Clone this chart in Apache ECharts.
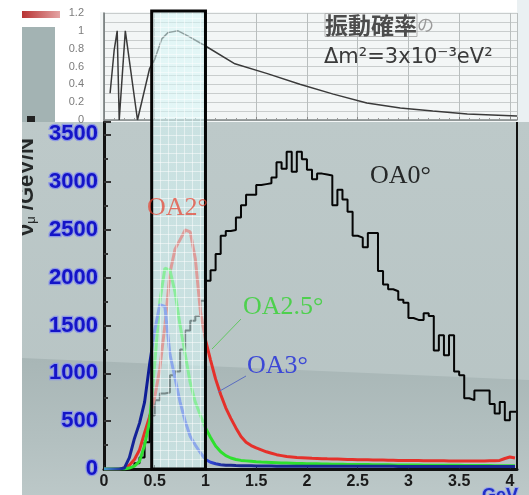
<!DOCTYPE html>
<html>
<head>
<meta charset="utf-8">
<script src="https://cdn.jsdelivr.net/npm/echarts@6/dist/echarts.min.js"></script>
<style>
  html, body { margin: 0; padding: 0; background: #fff; }
  #main { width: 529px; height: 495px; }
</style>
</head>
<body>
<div id="main"></div>
<script>
// neutrino energy (GeV), bin left edges
var energy = [
  0, 0.05, 0.1, 0.15, 0.2, 0.25, 0.3, 0.35, 0.4, 0.45,
  0.5, 0.55, 0.6, 0.65, 0.7, 0.75, 0.8, 0.85, 0.9, 0.95,
  1, 1.05, 1.1, 1.15, 1.2, 1.25, 1.3, 1.35, 1.4, 1.45,
  1.5, 1.55, 1.6, 1.65, 1.7, 1.75, 1.8, 1.85, 1.9, 1.95,
  2, 2.05, 2.1, 2.15, 2.2, 2.25, 2.3, 2.35, 2.4, 2.45,
  2.5, 2.55, 2.6, 2.65, 2.7, 2.75, 2.8, 2.85, 2.9, 2.95,
  3, 3.05, 3.1, 3.15, 3.2, 3.25, 3.3, 3.35, 3.4, 3.45,
  3.5, 3.55, 3.6, 3.65, 3.7, 3.75, 3.8, 3.85, 3.9, 3.95,
  4, 4.05
];
// OA0 (histogram)
var oa0Flux = [
  0, 0, 0, 0, 10, 30, 60, 120, 280, 560,
  720, 790, 800, 980, 1020, 1250, 1450, 1550, 1600, 1760,
  1970, 2080, 2250, 2440, 2490, 2500, 2630, 2760, 2870, 2870,
  2970, 2980, 2990, 3050, 3210, 3140, 3320, 3110, 3320, 3240,
  3130, 3030, 3090, 3080, 3070, 2760, 2920, 2820, 2690, 2440,
  2420, 2320, 2470, 2470, 2070, 1930, 1880, 1860, 1770, 1740,
  1580, 1560, 1560, 1630, 1600, 1240, 1400, 1190, 1400, 1020,
  980, 740, 720, 820, 820, 820, 680, 580, 700, 510,
  600, 600
];
// OA2
var oa2Flux = [
  0, 0, 0, 0, 10, 40, 100, 200, 380, 550,
  750, 1050, 1500, 2050, 2300, 2400, 2500, 2480, 2200, 1650,
  1350, 1140, 940, 780, 640, 530, 430, 340, 280, 245,
  220, 200, 180, 165, 150, 140, 130, 125, 120, 118,
  115, 112, 110, 108, 106, 105, 104, 102, 100, 100,
  98, 97, 96, 95, 94, 93, 92, 91, 90, 90,
  89, 88, 88, 87, 86, 86, 85, 85, 84, 84,
  84, 84, 84, 84, 84, 84, 85, 86, 90, 110,
  125, 115
];
// OA2.5
var oa25Flux = [
  0, 0, 0, 0, 0, 10, 30, 80, 250, 500,
  1100, 1750, 2100, 2080, 1850, 1500, 1200, 900, 700, 560,
  430, 330, 240, 180, 140, 115, 100, 90, 85, 80,
  75, 72, 70, 68, 66, 64, 62, 60, 58, 57,
  56, 55, 54, 53, 52, 51, 50, 49, 48, 48,
  47, 46, 46, 45, 45, 44, 44, 43, 43, 42,
  42, 41, 41, 40, 40, 40, 39, 39, 38, 38,
  38, 37, 37, 37, 36, 36, 36, 35, 35, 35,
  35, 35
];
// OA3
var oa3Flux = [
  0, 0, 0, 0, 10, 120, 320, 480, 700, 1100,
  1450, 1720, 1700, 1200, 950, 700, 500, 340, 250, 170,
  100, 70, 55, 45, 40, 38, 36, 35, 34, 33,
  32, 32, 31, 31, 30, 30, 30, 30, 30, 30,
  30, 30, 30, 30, 29, 29, 29, 29, 29, 29,
  28, 28, 28, 28, 28, 28, 28, 28, 27, 27,
  27, 27, 27, 27, 27, 26, 26, 26, 26, 26,
  26, 26, 26, 25, 25, 25, 25, 25, 25, 25,
  25, 25
];
// oscillation probability (top panel)
var probE = [0.06, 0.10, 0.13, 0.15, 0.21, 0.33, 0.45, 0.50, 0.57, 0.63, 0.73, 0.83, 1.00, 1.29, 1.61, 1.93, 2.26, 2.59, 2.92, 3.24, 3.58, 4.07];
var probValue = [0.30, 0.78, 1.00, 0.00, 1.00, 0.00, 0.58, 0.68, 0.91, 0.98, 1.00, 0.94, 0.83, 0.63, 0.52, 0.40, 0.29, 0.19, 0.135, 0.10, 0.067, 0.045];

var xTicks = [0, 0.5, 1, 1.5, 2, 2.5, 3, 3.5, 4];
var yTicks = [0, 500, 1000, 1500, 2000, 2500, 3000, 3500];
var probTicks = [0, 0.2, 0.4, 0.6, 0.8, 1, 1.2];
var boxRange = [0.47, 1.0];

var X_MAX = 4.07;
var Y_MAX = 3630;

function pairs(xs, ys) {
  return xs.map(function (x, i) { return [x, ys[i]]; });
}
var oa0Data = pairs(energy, oa0Flux);
oa0Data.push([X_MAX, oa0Flux[oa0Flux.length - 1]]);

function inList(list, v) {
  for (var i = 0; i < list.length; i++) {
    if (Math.abs(list[i] - v) < 1e-6) return true;
  }
  return false;
}

// light cyan grid pattern for the highlighted box
var pat = document.createElement('canvas');
pat.width = 8; pat.height = 9;
var pctx = pat.getContext('2d');
pctx.fillStyle = 'rgba(214,246,246,0.55)';
pctx.fillRect(0, 0, 8, 9);
pctx.fillStyle = 'rgba(255,255,255,0.5)';
pctx.fillRect(0, 0, 1, 9);
pctx.fillRect(0, 0, 8, 1);

var chart = echarts.init(document.getElementById('main'));

var option = {
  animation: false,
  backgroundColor: '#ffffff',
  grid: [
    { left: 104, top: 13, width: 413, height: 107 },
    { left: 104, top: 122, width: 413, height: 347 }
  ],
  xAxis: [
    {
      gridIndex: 0, type: 'value', min: 0, max: X_MAX, interval: 0.5,
      axisLine: { lineStyle: { color: '#7f8585', width: 1.5 } },
      axisTick: { show: true, inside: true, length: 3, lineStyle: { color: '#888' } },
      minorTick: { show: true, splitNumber: 5, length: 2, lineStyle: { color: '#999' } },
      axisLabel: { show: false },
      splitLine: { show: true, lineStyle: { color: '#b9bebe', width: 1 } }
    },
    {
      gridIndex: 1, type: 'value', min: 0, max: X_MAX, interval: 0.5,
      axisLine: { lineStyle: { color: '#111', width: 3 } },
      axisTick: { show: true, inside: true, length: 4, lineStyle: { color: '#222' } },
      axisLabel: {
        margin: 5, color: '#1a1a1a', fontSize: 16, fontWeight: 'bold',
        fontFamily: 'Liberation Sans',
        formatter: function (v) { return inList(xTicks, v) ? String(v) : ''; }
      },
      splitLine: { show: false }
    }
  ],
  yAxis: [
    {
      gridIndex: 0, type: 'value', min: 0, max: 1.2, interval: 0.1,
      axisLine: { show: true, lineStyle: { color: '#6d7373', width: 1.5 } },
      axisTick: { show: false },
      axisLabel: {
        margin: 20, color: '#7c7c7c', fontSize: 11, fontFamily: 'Liberation Sans',
        formatter: function (v) { return inList(probTicks, v) ? String(v) : ''; }
      },
      splitLine: { show: true, lineStyle: { color: '#c9cdcd', width: 1 } }
    },
    {
      gridIndex: 1, type: 'value', min: 0, max: Y_MAX, interval: 500,
      axisLine: { show: true, lineStyle: { color: '#111', width: 3 } },
      axisTick: { show: true, inside: true, length: 7, lineStyle: { color: '#333', width: 2 } },
      minorTick: { show: true, splitNumber: 2, length: 4, lineStyle: { color: '#333', width: 2 } },
      axisLabel: {
        margin: 6, color: '#1414c8', fontSize: 22, fontWeight: 'bold',
        fontFamily: 'Liberation Sans',
        textBorderColor: '#8d98e4', textBorderWidth: 2.5,
        formatter: function (v) { return inList(yTicks, v) ? String(v) : ''; }
      },
      splitLine: { show: false }
    }
  ],
  series: [
    {
      name: 'prob', type: 'line', xAxisIndex: 0, yAxisIndex: 0,
      data: pairs(probE, probValue), showSymbol: false,
      lineStyle: { color: '#3a3a3a', width: 1.5 }
    },
    {
      name: 'OA0', type: 'line', xAxisIndex: 1, yAxisIndex: 1, step: 'end',
      data: oa0Data, showSymbol: false, z: 3,
      lineStyle: { color: '#050505', width: 2 }
    },
    {
      name: 'OA2', type: 'line', xAxisIndex: 1, yAxisIndex: 1,
      data: pairs(energy, oa2Flux), showSymbol: false, z: 4,
      lineStyle: { color: '#e5302a', width: 3 }
    },
    {
      name: 'OA2.5', type: 'line', xAxisIndex: 1, yAxisIndex: 1,
      data: pairs(energy, oa25Flux), showSymbol: false, z: 5,
      lineStyle: { color: '#2ee02e', width: 3 }
    },
    {
      name: 'OA3', type: 'line', xAxisIndex: 1, yAxisIndex: 1,
      data: pairs(energy, oa3Flux), showSymbol: false, z: 6,
      lineStyle: {
        width: 3,
        color: {
          type: 'linear', x: 0, y: 0, x2: 1, y2: 0,
          colorStops: [
            { offset: 0, color: '#48a8d0' },
            { offset: 0.05, color: '#1a2a9a' },
            { offset: 0.115, color: '#0c1a96' },
            { offset: 0.125, color: '#3448e0' },
            { offset: 0.26, color: '#3448d8' },
            { offset: 0.3, color: '#1a2890' },
            { offset: 1, color: '#1a2890' }
          ]
        }
      }
    }
  ]
};
chart.setOption(option);

// positions from the chart's own scales
var pLeft = chart.convertToPixel({ gridIndex: 1 }, [boxRange[0], 0]);
var pRight = chart.convertToPixel({ gridIndex: 1 }, [boxRange[1], 0]);
var pTop = chart.convertToPixel({ gridIndex: 0 }, [0, 1.2]);

chart.setOption({
  graphic: [
    // slide background
    { type: 'rect', z: -100, shape: { x: 22, y: 122, width: 507, height: 373 },
      style: { fill: { type: 'linear', x: 0, y: 0, x2: 0, y2: 1,
        colorStops: [{ offset: 0, color: '#bdc9c9' }, { offset: 1, color: '#b6c3c3' }] } } },
    { type: 'polygon', z: -99, shape: { points: [[22, 358], [529, 380], [529, 495], [22, 495]] },
      style: { fill: { type: 'linear', x: 0, y: 0, x2: 0, y2: 1,
        colorStops: [{ offset: 0, color: '#a8b6b6' }, { offset: 0.6, color: '#b3c0c0' }, { offset: 1, color: '#bcc8c8' }] } } },
    { type: 'rect', z: -98, shape: { x: 100, y: 12, width: 417, height: 110 }, style: { fill: '#f3f6f6' } },
    { type: 'rect', z: -98, shape: { x: 517, y: 0, width: 12, height: 122 }, style: { fill: '#eaf0f2' } },
    { type: 'rect', z: -98, shape: { x: 22, y: 27, width: 33, height: 95 }, style: { fill: '#a3b3b3' } },
    { type: 'rect', z: -98, shape: { x: 22, y: 11, width: 38, height: 7 },
      style: { fill: { type: 'linear', x: 0, y: 0, x2: 1, y2: 0,
        colorStops: [{ offset: 0, color: '#b83434' }, { offset: 1, color: '#e4a4a4' }] } } },
    { type: 'rect', z: -97, shape: { x: 27, y: 116, width: 8, height: 6 }, style: { fill: '#222' } },
    // right frame of main plot
    { type: 'line', z: 20, shape: { x1: 517, y1: 122, x2: 517, y2: 469 }, style: { stroke: '#111', lineWidth: 2 } },
    // y axis title (cropped at the left)
    { type: 'text', z: 30, x: 38, y: 236, rotation: Math.PI / 2,
      style: { text: '{a|ν}{b|μ}{a| /GeV/N}', rich: {
        a: { fontSize: 22, fontFamily: 'Liberation Sans', fontWeight: 'bold', fill: '#252828' },
        b: { fontSize: 13, fontFamily: 'Liberation Sans', fill: '#252828', verticalAlign: 'bottom' } },
        verticalAlign: 'bottom', align: 'left' } },
    { type: 'rect', z: 40, shape: { x: 0, y: 0, width: 22, height: 495 }, style: { fill: '#ffffff' } },
    // curve labels
    { type: 'text', z: 55, x: 147, y: 208,
      style: { text: 'OA2°', fill: 'rgba(232,64,46,0.7)', font: '26px "Liberation Serif"', verticalAlign: 'middle' } },
    { type: 'text', z: 30, x: 370, y: 176,
      style: { text: 'OA0°', fill: '#262828', font: '26px "Liberation Serif"', verticalAlign: 'middle' } },
    { type: 'text', z: 30, x: 243, y: 307,
      style: { text: 'OA2.5°', fill: '#4ed04e', font: '26px "Liberation Serif"', verticalAlign: 'middle' } },
    { type: 'text', z: 30, x: 247, y: 366,
      style: { text: 'OA3°', fill: '#3c48d6', font: '26px "Liberation Serif"', verticalAlign: 'middle' } },
    { type: 'line', z: 30, shape: { x1: 241, y1: 319, x2: 212, y2: 349 }, style: { stroke: '#62c862', lineWidth: 1 } },
    { type: 'line', z: 30, shape: { x1: 246, y1: 376, x2: 218, y2: 392 }, style: { stroke: '#5a6cc0', lineWidth: 1 } },
    // highlighted energy window
    { type: 'rect', z: 50,
      shape: { x: pLeft[0], y: pTop[1] - 2, width: pRight[0] - pLeft[0], height: pLeft[1] - pTop[1] + 2 },
      style: { fill: { image: pat, repeat: 'repeat' }, stroke: '#050505', lineWidth: 3 } },
    // top panel text
    { type: 'text', z: 60, x: 325, y: 25,
      style: { text: '{a|振動確率}{b|の}', verticalAlign: 'middle', rich: {
        a: { fontSize: 23, fontFamily: 'Noto Sans CJK JP', fontWeight: 'bold', fill: '#4c4c4c',
             textBorderColor: '#b0b0b0', textBorderWidth: 1 },
        b: { fontSize: 17, fontFamily: 'Noto Sans CJK JP', fill: '#9a9a9a' } } } },
    { type: 'text', z: 60, x: 324, y: 58,
      style: { text: 'Δm²=3x10⁻³eV²', font: '21px "DejaVu Sans"', fill: '#3a3a3a', verticalAlign: 'middle' } },
    // x axis unit (cropped at the bottom)
    { type: 'text', z: 60, x: 482, y: 487,
      style: { text: 'GeV', font: 'bold 18px "Liberation Sans"', fill: '#2030c8',
               stroke: '#9aa4e8', lineWidth: 2, verticalAlign: 'top' } }
  ]
});
</script>
</body>
</html>
